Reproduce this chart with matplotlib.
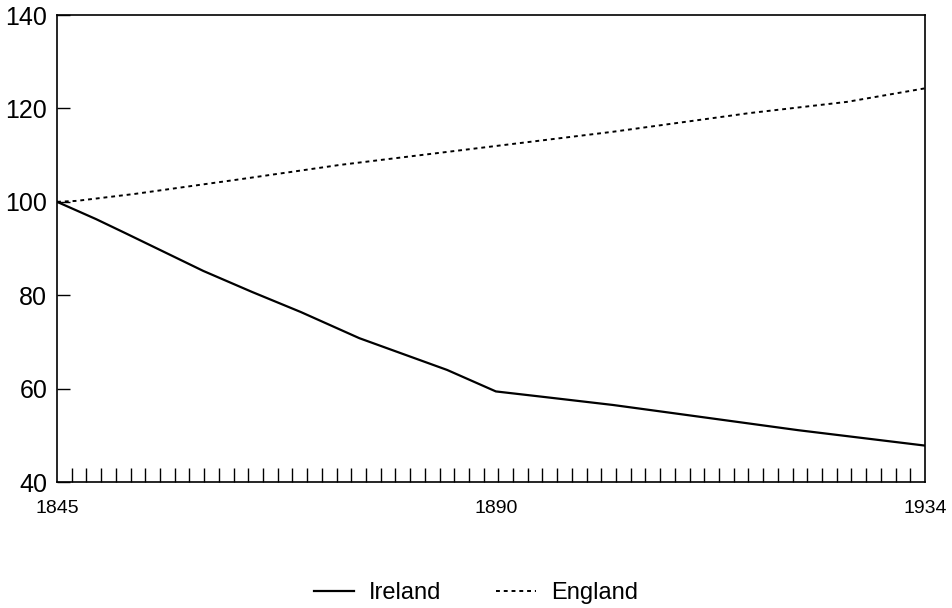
import matplotlib
matplotlib.use("Agg")
import matplotlib.pyplot as plt
import numpy as np

plt.rcParams['font.family'] = ['Liberation Sans', 'DejaVu Sans']

# Population index, 1845 = 100
ireland_years = [1845, 1849, 1852, 1860, 1865, 1870, 1876, 1885, 1890,
                 1895, 1902, 1908, 1921, 1934]
ireland_index = [100, 96.3, 93.3, 85.2, 80.7, 76.4, 70.8, 64.0, 59.4,
                 58.2, 56.5, 54.8, 51.1, 47.8]

england_years = [1845, 1847, 1853, 1864, 1874, 1889, 1902, 1916, 1926, 1934]
england_index = [100, 100.2, 101.7, 104.9, 107.9, 111.7, 115.0, 119.0, 121.4, 124.3]

x_labels = [1845, 1890, 1934]
y_ticks = [40, 60, 80, 100, 120, 140]

fig = plt.figure(figsize=(9.52, 6.08), dpi=100)
ax = fig.add_axes([0.0599, 0.2072, 0.9117, 0.7681])

ax.plot(ireland_years, ireland_index, color='black', lw=1.6, label='Ireland')
ax.plot(england_years, england_index, color='black', lw=1.4,
        linestyle=(0, (2, 2)), label='England')

ax.set_xlim(1845, 1934)
ax.set_ylim(40, 140)

ax.set_yticks(y_ticks)
ax.tick_params(axis='y', direction='in', length=9, width=1, labelsize=18, pad=7)

ax.set_xticks(x_labels)
ax.tick_params(axis='x', which='major', length=0, labelsize=14, pad=13)
# small inward ticks dividing the time axis into 59 equal steps
ax.set_xticks(np.linspace(1845, 1934, 60)[1:-1], minor=True)
ax.tick_params(axis='x', which='minor', direction='in', length=10, width=1)

for sp in ax.spines.values():
    sp.set_linewidth(1.2)

fig.legend(loc='center', bbox_to_anchor=(0.5, 0.025), ncol=2, frameon=False,
           fontsize=17, handlelength=1.7, handletextpad=0.64, columnspacing=2.3)

fig.savefig('out.png', dpi=100)
